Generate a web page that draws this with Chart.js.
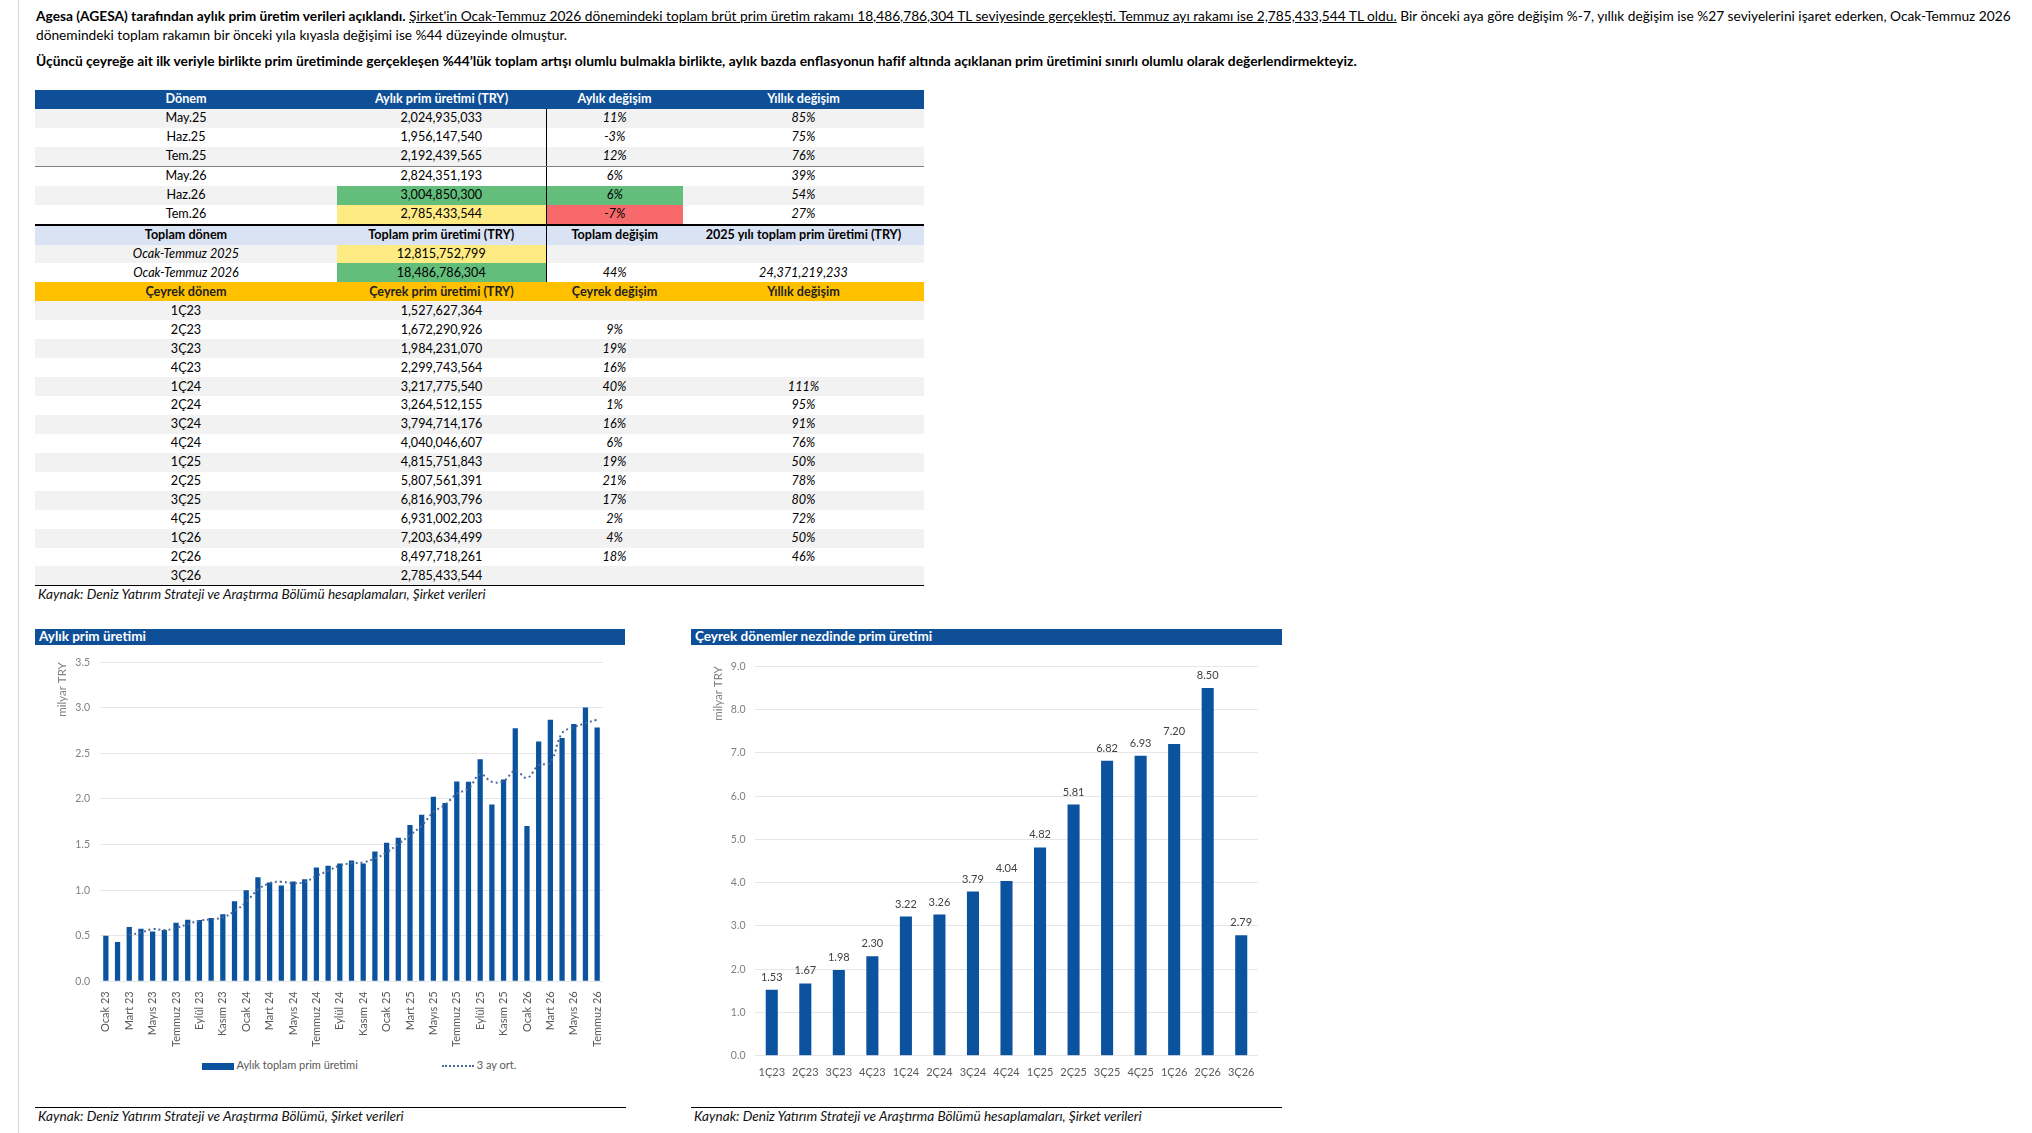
<!DOCTYPE html>
<html lang="tr">
<head>
<meta charset="UTF-8">
<title>Agesa aylık prim üretimi</title>
<style>
    html, body { margin: 0; padding: 0; background: #fff; }
    body { width: 2032px; height: 1133px; position: relative; overflow: hidden; font-family: Lato, 'Open Sans', sans-serif; color: #000; }
    #kenar { position: absolute; left: 18px; top: 0; width: 1px; height: 1133px; background: #d4d4d4; }
    .satir { position: absolute; left: 36px; white-space: nowrap; font-size: 13px; line-height: 20px; }
    .satir span { display: inline-block; }
    #tablo { position: absolute; left: 35px; top: 90px; width: 889px; border-collapse: collapse; table-layout: fixed; font-size: 12.6px; }
    #tablo td { height: 18.95px; padding: 0; text-align: center; line-height: 18px; white-space: nowrap; }
    tr.baslik td { background: #0e4f98; color: #fff; font-weight: bold; }
    tr.ara td { background: #dae3f3; font-weight: bold; }
    tr.altin td { background: #ffc000; font-weight: bold; color: #1f1f1f; }
    tr.gri td { background: #f2f2f2; }
    #tablo td.yesil { background: #63be7b; }
    #tablo td.sari { background: #ffeb84; }
    #tablo td.kirmizi { background: #f8696b; }
    td.it { font-style: italic; }
    td.dik { border-left: 1px solid #000; }
    tr.ince td { border-bottom: 1px solid #808080; }
    tr.kalin td { border-bottom: 2px solid #000; }
    tr.son td { border-bottom: 1px solid #000; }
    .kaynak { position: absolute; font-style: italic; font-size: 13.6px; white-space: nowrap; color: #111; line-height: 16px; }
    .baslikBar { position: absolute; top: 629px; height: 15.5px; background: #0e4f98; color: #fff; font-weight: bold; font-size: 13.5px; line-height: 15.5px; padding-left: 4px; box-sizing: border-box; white-space: nowrap; }
    .altCizgi { position: absolute; top: 1107px; height: 1px; background: #000; }
    canvas { position: absolute; }
    .lejant { position: absolute; top: 1058px; font-size: 11px; color: #595959; white-space: nowrap; line-height: 14px; }
    .lejant i { display: inline-block; vertical-align: middle; }
</style>
</head>
<body>
    <div id="kenar"></div>

    <div class="satir" style="top:6px"><span id="s1"><b>Agesa (AGESA) tarafından aylık prim üretim verileri açıklandı.</b> <u>Şirket'in Ocak-Temmuz 2026 dönemindeki toplam brüt prim üretim rakamı 18,486,786,304 TL seviyesinde gerçekleşti. Temmuz ayı rakamı ise 2,785,433,544 TL oldu.</u> Bir önceki aya göre değişim %-7, yıllık değişim ise %27 seviyelerini işaret ederken, Ocak-Temmuz 2026</span></div>
    <div class="satir" style="top:25px"><span id="s2">dönemindeki toplam rakamın bir önceki yıla kıyasla değişimi ise %44 düzeyinde olmuştur.</span></div>
    <div class="satir" style="top:51px"><span id="s3"><b>Üçüncü çeyreğe ait ilk veriyle birlikte prim üretiminde gerçekleşen %44’lük toplam artışı olumlu bulmakla birlikte, aylık bazda enflasyonun hafif altında açıklanan prim üretimini sınırlı olumlu olarak değerlendirmekteyiz.</b></span></div>

    <table id="tablo">
        <colgroup><col style="width:302px"><col style="width:209px"><col style="width:137px"><col style="width:241px"></colgroup>
        <tbody id="tbody">
            <tr class="baslik"><td>Dönem</td><td>Aylık prim üretimi (TRY)</td><td>Aylık değişim</td><td>Yıllık değişim</td></tr>
            <tr class="gri"><td>May.25</td><td>2,024,935,033</td><td class="it dik">11%</td><td class="it">85%</td></tr>
            <tr><td>Haz.25</td><td>1,956,147,540</td><td class="it dik">-3%</td><td class="it">75%</td></tr>
            <tr class="gri ince"><td>Tem.25</td><td>2,192,439,565</td><td class="it dik">12%</td><td class="it">76%</td></tr>
            <tr><td>May.26</td><td>2,824,351,193</td><td class="it dik">6%</td><td class="it">39%</td></tr>
            <tr class="gri"><td>Haz.26</td><td class="yesil">3,004,850,300</td><td class="it dik yesil">6%</td><td class="it">54%</td></tr>
            <tr class="kalin"><td>Tem.26</td><td class="sari">2,785,433,544</td><td class="it dik kirmizi">-7%</td><td class="it">27%</td></tr>
            <tr class="ara"><td>Toplam dönem</td><td>Toplam prim üretimi (TRY)</td><td class="dik">Toplam değişim</td><td>2025 yılı toplam prim üretimi (TRY)</td></tr>
            <tr class="gri"><td class="it">Ocak-Temmuz 2025</td><td class="sari">12,815,752,799</td><td class="dik"></td><td></td></tr>
            <tr><td class="it">Ocak-Temmuz 2026</td><td class="yesil">18,486,786,304</td><td class="it dik">44%</td><td class="it">24,371,219,233</td></tr>
            <tr class="altin"><td>Çeyrek dönem</td><td>Çeyrek prim üretimi (TRY)</td><td>Çeyrek değişim</td><td>Yıllık değişim</td></tr>
        </tbody>
    </table>
    <div class="kaynak" style="left:38px; top:586px">Kaynak: Deniz Yatırım Strateji ve Araştırma Bölümü hesaplamaları, Şirket verileri</div>

    <!-- Sol grafik -->
    <div class="baslikBar" style="left:35px; width:590px">Aylık prim üretimi</div>
    <canvas id="aylikGrafik" width="590" height="407" style="left:35px; top:646px"></canvas>
    <div class="lejant" style="left:202px"><i style="width:32px; height:7px; background:#0b539f"></i> Aylık toplam prim üretimi</div>
    <div class="lejant" style="left:442px"><i style="width:32px; height:0; border-top:2px dotted #4a6a9a"></i> 3 ay ort.</div>
    <div class="altCizgi" style="left:35px; width:591px"></div>
    <div class="kaynak" style="left:38px; top:1108px">Kaynak: Deniz Yatırım Strateji ve Araştırma Bölümü, Şirket verileri</div>

    <!-- Sağ grafik -->
    <div class="baslikBar" style="left:691px; width:591px">Çeyrek dönemler nezdinde prim üretimi</div>
    <canvas id="ceyrekGrafik" width="591" height="434" style="left:691px; top:650px"></canvas>
    <div class="altCizgi" style="left:691px; width:591px"></div>
    <div class="kaynak" style="left:694px; top:1108px">Kaynak: Deniz Yatırım Strateji ve Araştırma Bölümü hesaplamaları, Şirket verileri</div>

    <script src="https://cdn.jsdelivr.net/npm/chart.js"></script>
    <script>
        // Aylık veriler (milyar TRY), Ocak 2023 - Temmuz 2026
        const aylar = [
            'Ocak 23', 'Şubat 23', 'Mart 23', 'Nisan 23', 'Mayıs 23', 'Haziran 23', 'Temmuz 23', 'Ağustos 23', 'Eylül 23', 'Ekim 23', 'Kasım 23', 'Aralık 23',
            'Ocak 24', 'Şubat 24', 'Mart 24', 'Nisan 24', 'Mayıs 24', 'Haziran 24', 'Temmuz 24', 'Ağustos 24', 'Eylül 24', 'Ekim 24', 'Kasım 24', 'Aralık 24',
            'Ocak 25', 'Şubat 25', 'Mart 25', 'Nisan 25', 'Mayıs 25', 'Haziran 25', 'Temmuz 25', 'Ağustos 25', 'Eylül 25', 'Ekim 25', 'Kasım 25', 'Aralık 25',
            'Ocak 26', 'Şubat 26', 'Mart 26', 'Nisan 26', 'Mayıs 26', 'Haziran 26', 'Temmuz 26'
        ];
        const aylikUretim = [
            0.500, 0.430, 0.595, 0.577, 0.547, 0.562, 0.643, 0.676, 0.672, 0.694, 0.734, 0.878,
            0.999, 1.142, 1.083, 1.050, 1.095, 1.120, 1.249, 1.267, 1.293, 1.326, 1.293, 1.425,
            1.520, 1.575, 1.715, 1.827, 2.025, 1.956, 2.192, 2.190, 2.435, 1.940, 2.215, 2.776,
            1.705, 2.630, 2.869, 2.668, 2.824, 3.005, 2.785
        ];
        const ucAyOrt = [
            null, null, 0.508, 0.534, 0.573, 0.562, 0.584, 0.627, 0.664, 0.681, 0.700, 0.769,
            0.870, 1.006, 1.075, 1.092, 1.076, 1.088, 1.155, 1.212, 1.270, 1.295, 1.304, 1.348,
            1.413, 1.507, 1.603, 1.706, 1.856, 1.936, 2.058, 2.113, 2.272, 2.188, 2.197, 2.310,
            2.232, 2.370, 2.401, 2.722, 2.787, 2.832, 2.871
        ];
        const aylikEksen = [0, 3.5, 0.5];

        // Çeyreklik veriler
        const ceyrekler = ['1Ç23', '2Ç23', '3Ç23', '4Ç23', '1Ç24', '2Ç24', '3Ç24', '4Ç24', '1Ç25', '2Ç25', '3Ç25', '4Ç25', '1Ç26', '2Ç26', '3Ç26'];
        const ceyrekMilyar = [1.5276, 1.6723, 1.9842, 2.2997, 3.2178, 3.2645, 3.7947, 4.0400, 4.8158, 5.8076, 6.8169, 6.9310, 7.2036, 8.4977, 2.7854];
        const ceyrekTRY = ['1,527,627,364', '1,672,290,926', '1,984,231,070', '2,299,743,564', '3,217,775,540', '3,264,512,155', '3,794,714,176', '4,040,046,607', '4,815,751,843', '5,807,561,391', '6,816,903,796', '6,931,002,203', '7,203,634,499', '8,497,718,261', '2,785,433,544'];
        const ceyrekDegisim = ['', '9%', '19%', '16%', '40%', '1%', '16%', '6%', '19%', '21%', '17%', '2%', '4%', '18%', ''];
        const ceyrekYillik = ['', '', '', '', '111%', '95%', '91%', '76%', '50%', '78%', '80%', '72%', '50%', '46%', ''];
        const ceyrekEksen = [0, 9, 1];

        const MAVI = '#0b539f';
        const GRI_YAZI = '#595959';
        const FONT = 'Lato';

        // Metin satırlarını referans genişliğine oturt
        function sigdir(id, hedef) {
            const el = document.getElementById(id);
            const fs = parseFloat(getComputedStyle(el).fontSize);
            const yeni = fs * hedef / el.getBoundingClientRect().width;
            el.style.fontSize = yeni + 'px';
            return yeni;
        }
        const fs1 = sigdir('s1', 1976);
        document.getElementById('s2').style.fontSize = fs1 + 'px';
        sigdir('s3', 1322);

        // Çeyreklik tablo satırları
        const tbody = document.getElementById('tbody');
        ceyrekler.forEach((c, i) => {
            const tr = document.createElement('tr');
            if (i % 2 === 0) tr.classList.add('gri');
            if (i === ceyrekler.length - 1) tr.classList.add('son');
            tr.innerHTML = '<td>' + c + '</td><td>' + ceyrekTRY[i] + '</td><td class="it">' + ceyrekDegisim[i] + '</td><td class="it">' + ceyrekYillik[i] + '</td>';
            tbody.appendChild(tr);
        });

        Chart.defaults.font.family = FONT;
        Chart.defaults.color = GRI_YAZI;

        // Sol: aylık prim üretimi
        new Chart(document.getElementById('aylikGrafik'), {
            data: {
                labels: aylar,
                datasets: [
                    {
                        type: 'line',
                        label: '3 ay ort.',
                        data: ucAyOrt,
                        borderColor: '#4a6a9a',
                        borderWidth: 2,
                        borderDash: [2, 3],
                        pointRadius: 0,
                        tension: 0.4,
                        fill: false,
                        order: 1
                    },
                    {
                        type: 'bar',
                        label: 'Aylık toplam prim üretimi',
                        data: aylikUretim,
                        backgroundColor: MAVI,
                        barPercentage: 0.45,
                        categoryPercentage: 1,
                        order: 2
                    }
                ]
            },
            options: {
                responsive: false,
                animation: false,
                layout: { padding: { left: 20, right: 22, top: 12.4, bottom: 4 } },
                plugins: { legend: { display: false }, tooltip: { enabled: false } },
                scales: {
                    x: {
                        grid: { display: false },
                        border: { display: false },
                        ticks: {
                            autoSkip: false,
                            minRotation: 90,
                            maxRotation: 90,
                            padding: 2,
                            font: { size: 11 },
                            callback: (v, i) => (i % 2 === 0 ? aylar[i] : '')
                        }
                    },
                    y: {
                        min: aylikEksen[0],
                        max: aylikEksen[1],
                        afterFit: (s) => { s.width = 45; },
                        grid: { color: '#e6e6e6', drawTicks: false },
                        border: { display: false },
                        ticks: { stepSize: aylikEksen[2], padding: 10, color: '#7f7f7f', font: { size: 10.5 }, callback: (v) => v.toFixed(1) },
                        title: { display: true, text: 'milyar TRY', align: 'end', color: '#7f7f7f', font: { size: 11.5 }, padding: 0 }
                    }
                }
            }
        });

        // Çubukların üstüne değer yazan eklenti
        const degerEtiketi = {
            id: 'degerEtiketi',
            afterDatasetsDraw(chart) {
                const c = chart.ctx;
                const veri = chart.data.datasets[0].data;
                c.save();
                c.font = '11px ' + FONT;
                c.fillStyle = '#404040';
                c.textAlign = 'center';
                c.textBaseline = 'bottom';
                chart.getDatasetMeta(0).data.forEach((bar, i) => {
                    c.fillText(veri[i].toFixed(2), bar.x, bar.y - 7);
                });
                c.restore();
            }
        };

        // Sağ: çeyreklik prim üretimi
        new Chart(document.getElementById('ceyrekGrafik'), {
            type: 'bar',
            data: {
                labels: ceyrekler,
                datasets: [{
                    label: 'Çeyrek prim üretimi',
                    data: ceyrekMilyar,
                    backgroundColor: MAVI,
                    barPercentage: 0.36,
                    categoryPercentage: 1
                }]
            },
            plugins: [degerEtiketi],
            options: {
                responsive: false,
                animation: false,
                layout: { padding: { left: 20, right: 24, top: 16.3, bottom: 3 } },
                plugins: { legend: { display: false }, tooltip: { enabled: false } },
                scales: {
                    x: {
                        grid: { display: false },
                        border: { display: false },
                        ticks: { padding: 2, font: { size: 11 } }
                    },
                    y: {
                        min: ceyrekEksen[0],
                        max: ceyrekEksen[1],
                        afterFit: (s) => { s.width = 44; },
                        grid: { color: '#e6e6e6', drawTicks: false },
                        border: { display: false },
                        ticks: { stepSize: ceyrekEksen[2], padding: 9.5, color: '#7f7f7f', font: { size: 10.5 }, callback: (v) => v.toFixed(1) },
                        title: { display: true, text: 'milyar TRY', align: 'end', color: '#7f7f7f', font: { size: 11.5 }, padding: 0 }
                    }
                }
            }
        });
    </script>
</body>
</html>
